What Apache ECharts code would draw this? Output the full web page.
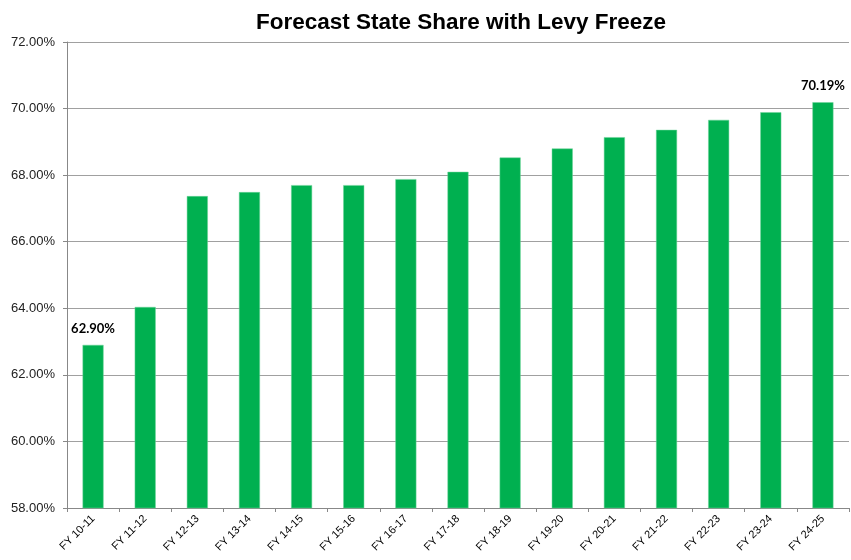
<!DOCTYPE html>
<html>
<head>
<meta charset="utf-8">
<script src="https://cdn.jsdelivr.net/npm/echarts@6/dist/echarts.min.js"></script>
<style>
html,body{margin:0;padding:0;background:#fff;}
#chart{width:851px;height:560px;}
</style>
</head>
<body>
<div id="chart"></div>
<script>
var categories = ['FY 10-11','FY 11-12','FY 12-13','FY 13-14','FY 14-15','FY 15-16','FY 16-17','FY 17-18','FY 18-19','FY 19-20','FY 20-21','FY 21-22','FY 22-23','FY 23-24','FY 24-25'];
var stateShare = [62.90, 64.04, 67.37, 67.49, 67.70, 67.70, 67.88, 68.10, 68.53, 68.80, 69.14, 69.36, 69.66, 69.89, 70.19];
var labeledIndexes = [0, 14];
var yTicks = { min: 58, max: 72, interval: 2 };

var chart = echarts.init(document.getElementById('chart'), null, {renderer: 'canvas'});
var seriesData = stateShare.map(function (v, i) {
  return {
    value: v,
    label: { show: labeledIndexes.indexOf(i) >= 0 }
  };
});
chart.setOption({
  animation: false,
  backgroundColor: '#ffffff',
  title: {
    text: 'Forecast State Share with Levy Freeze',
    left: 456, top: 6, textAlign: 'center',
    textStyle: { fontFamily: 'Liberation Sans, Arial, sans-serif', fontSize: 22.5, fontWeight: 'bold', color: '#000' }
  },
  grid: { left: 67, right: 2, top: 42, bottom: 52, containLabel: false },
  xAxis: {
    type: 'category',
    data: categories,
    boundaryGap: true,
    axisLine: { lineStyle: { color: '#888', width: 1 } },
    axisTick: { show: true, length: 4, lineStyle: { color: '#888' } },
    axisLabel: {
      rotate: 45, interval: 0, margin: 9,
      fontFamily: 'Liberation Sans, Arial, sans-serif', fontSize: 11, color: '#000'
    }
  },
  yAxis: {
    type: 'value',
    min: yTicks.min, max: yTicks.max, interval: yTicks.interval,
    axisLine: { show: true, lineStyle: { color: '#888', width: 1 } },
    axisTick: { show: true, length: 4, lineStyle: { color: '#888' } },
    splitLine: { show: true, lineStyle: { color: '#a0a0a0', width: 1 } },
    axisLabel: {
      margin: 12,
      fontFamily: 'Liberation Sans, Arial, sans-serif', fontSize: 13, color: '#222',
      formatter: function (v) { return v.toFixed(2) + '%'; }
    }
  },
  series: [{
    type: 'bar',
    data: seriesData,
    barWidth: 21,
    itemStyle: { color: '#00B050', borderColor: '#6fd59a', borderWidth: 0.5 },
    label: {
      position: 'top', distance: 10,
      fontFamily: 'Lato, Open Sans, sans-serif', fontWeight: 'bold', fontSize: 13, color: '#000',
      formatter: function (p) { return p.value.toFixed(2) + '%'; }
    }
  }]
});
</script>
</body>
</html>
